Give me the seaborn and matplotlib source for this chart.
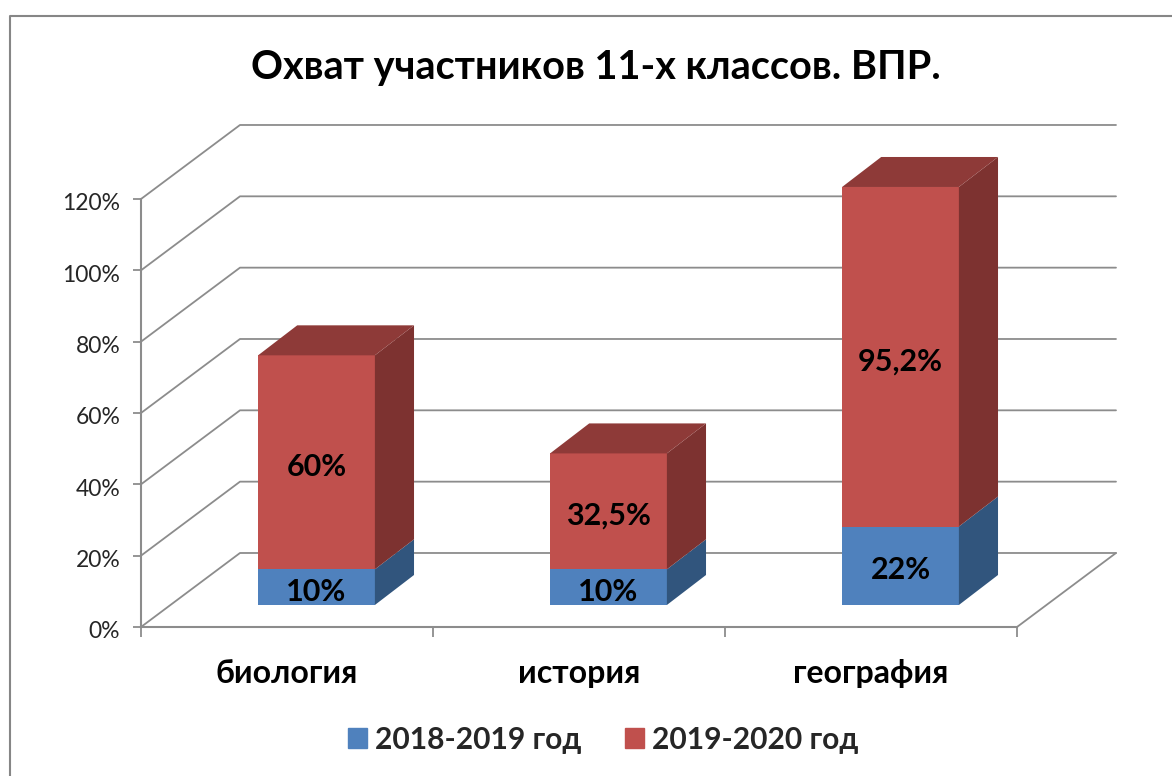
import pandas as pd
import seaborn as sns
import matplotlib.pyplot as plt
from matplotlib.lines import Line2D
from matplotlib.patches import Patch
from matplotlib.transforms import Affine2D

subjects = ['биология', 'история', 'география']
values_2018 = [10, 10, 22]
values_2019 = [60, 32.5, 95.2]
year_labels = ['2018-2019 год', '2019-2020 год']
y_ticks = [0, 20, 40, 60, 80, 100, 120]
title = 'Охват участников 11-х классов. ВПР.'

W, H = 1172, 776
GRAY = '#8c8c8c'
FRONT = ['#4f81bd', '#c0504d']
SIDE = ['#31557d', '#7d3230']
TOP_RED = '#8e3a38'

# сдвиг стен и столбиков в единицах данных
WALL_DX, WALL_DY = 0.339, 20.75
BAR_DX, BAR_DY = 0.101, 6.17
DEPTH_DX, DEPTH_DY = 0.134, 8.41

sns.set_style('white')
plt.rcParams['font.family'] = ['Lato', 'Open Sans', 'DejaVu Sans']

fig = plt.figure(figsize=(W / 100, H / 100), dpi=100)
ax = fig.add_axes([141 / W, (H - 627) / H, 876 / W, 428 / H])

df = pd.DataFrame({'subject': subjects, 'v2018': values_2018, 'v2019': values_2019})
sns.barplot(data=df, x='subject', y='v2018', color=FRONT[0], saturation=1, width=0.4, ax=ax)
n_first = len(ax.patches)
sns.barplot(data=df, x='subject', y='v2019', bottom=df['v2018'], color=FRONT[1], saturation=1, width=0.4, ax=ax)

ax.set_xlim(-0.5, 2.5)
ax.set_ylim(0, 120)

# стены и пол
for t in y_ticks:
    ax.plot([-0.5, -0.5 + WALL_DX, 2.5 + WALL_DX], [t, t + WALL_DY, t + WALL_DY],
            color=GRAY, lw=1.3, zorder=0.5, clip_on=False)
ax.plot([2.5, 2.5 + WALL_DX], [0, WALL_DY], color=GRAY, lw=1.3, zorder=0.5, clip_on=False)

# объем столбиков
shift = Affine2D().translate(BAR_DX, BAR_DY) + ax.transData
for i, bar in enumerate(ax.patches[:]):
    bar.set_transform(shift)
    bar.set_linewidth(0)
    bar.set_clip_on(False)
    x0, x1 = bar.get_x(), bar.get_x() + bar.get_width()
    y0, y1 = bar.get_y(), bar.get_y() + bar.get_height()
    series = 0 if i < n_first else 1
    ax.fill([x1, x1 + DEPTH_DX, x1 + DEPTH_DX, x1],
            [y0, y0 + DEPTH_DY, y1 + DEPTH_DY, y1],
            color=SIDE[series], lw=0, transform=shift, zorder=1.1, clip_on=False)
    if series == 1:
        ax.fill([x0, x1, x1 + DEPTH_DX, x0 + DEPTH_DX],
                [y1, y1, y1 + DEPTH_DY, y1 + DEPTH_DY],
                color=TOP_RED, lw=0, transform=shift, zorder=1.1, clip_on=False)
    value = bar.get_height()
    label = f'{value:g}%'.replace('.', ',')
    ax.text((x0 + x1) / 2, (y0 + y1) / 2 - 0.6, label, transform=shift, ha='center', va='center_baseline',
            fontsize=22, fontweight='bold', color='black', zorder=3)

ax.set_xlim(-0.5, 2.5)
ax.set_ylim(0, 120)
sns.despine(ax=ax)
for side in ['left', 'bottom']:
    ax.spines[side].set_color(GRAY)
    ax.spines[side].set_linewidth(1.5)

ax.set_xlabel('')
ax.set_ylabel('')
ax.set_yticks(y_ticks)
ax.set_yticklabels([f'{t}%' for t in y_ticks], fontsize=16.5, color='#262626', va='center_baseline')
ax.set_xticks([-0.5, 0.5, 1.5, 2.5])
ax.set_xticklabels([])
ax.set_xticks([0, 1, 2], minor=True)
ax.set_xticklabels(subjects, minor=True, fontsize=23, fontweight='bold', color='black')
ax.tick_params(axis='y', left=True, length=6, width=1.3, color=GRAY, pad=9)
ax.tick_params(axis='x', which='major', bottom=True, length=7, width=1.3, color=GRAY)
ax.tick_params(axis='x', which='minor', bottom=False, length=0, pad=23)
# подписи оси чуть ниже засечек, tick_params сбрасывает transform
for tick_label in ax.get_yticklabels():
    tick_label.set_transform(tick_label.get_transform() + Affine2D().translate(0, -3))

handles = [Patch(color=FRONT[0], label=year_labels[0]), Patch(color=FRONT[1], label=year_labels[1])]
fig.legend(handles=handles, loc='center', bbox_to_anchor=(603 / W, (H - 740) / H), ncol=2,
           frameon=False, prop={'size': 21.6, 'weight': 'bold'}, handlelength=0.65, handleheight=0.65,
           handletextpad=0.25, columnspacing=1.45)

fig.text(596 / W, (H - 64) / H, title, ha='center', va='center_baseline', fontsize=28.5, fontweight='bold', color='black')

# рамка диаграммы
fig.add_artist(Line2D([10 / W, 10 / W, 1], [0, (H - 16) / H, (H - 16) / H], color='#868686', lw=1.5))

fig.savefig('out.png', dpi=100)
